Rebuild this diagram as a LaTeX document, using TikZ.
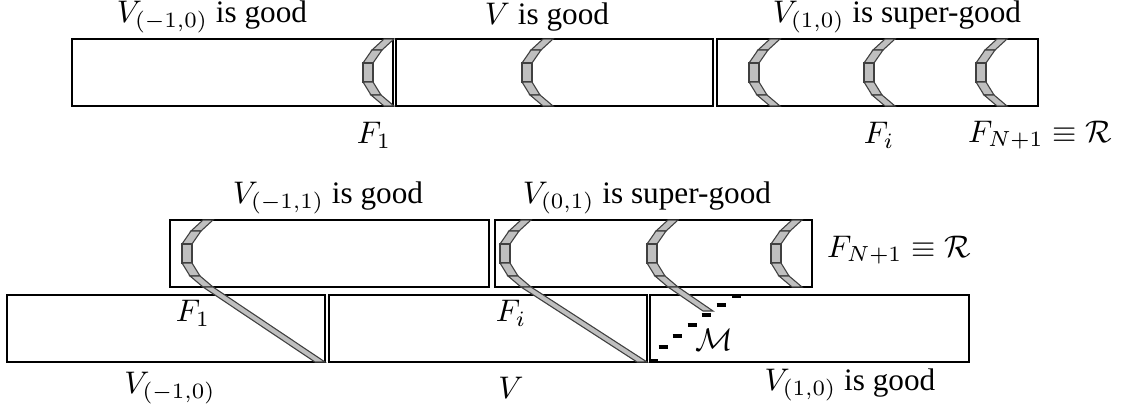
\documentclass[tikz,border=0pt]{standalone}
\usepackage{amsmath, amssymb}
\usepackage[no-math]{fontspec}
\setmainfont{Liberation Serif}

\tikzset{
  cell/.style={line width=0.7pt},
  band/.style={draw=black!75, line width=0.35pt, fill=black!25},
  mdash/.style={line width=1.4pt},
  crescent/.pic={
    \foreach \ax/\ay/\bx/\by in {21/0/9/11, 9/11/0/24, 0/24/0/43, 0/43/8/56, 8/56/21/67}
      \draw[band] (\ax,\ay) -- (\bx,\by) -- (\bx+10,\by) -- (\ax+10,\ay) -- cycle;
  }
}

\begin{document}
\begin{tikzpicture}[x=0.32pt, y=-0.32pt]
\useasboundingbox (0,0) rectangle (1127,412);
% first row
\draw[cell] (72,39) rectangle (393,106);
\draw[cell] (396,39) rectangle (713,106);
\draw[cell] (717,39) rectangle (1038,106);
\foreach \x in {363,522,749,864,976}
  \pic at (\x,39) {crescent};
\node (topa) at (212,17) {$V_{(-1,0)}$ is good};
\node (topb) at (547,17) {$V$ is good};
\node (topc) at (897,17) {$V_{(1,0)}$ is super-good};
\node (fone) at (374,135) {$F_1$};
\node (fi) at (879,135) {$F_i$};
\node (fend) at (1040,135) {$F_{N+1}\equiv\mathcal{R}$};
% second row
\draw[cell] (170,220) rectangle (489,287);
\draw[cell] (495,220) rectangle (812,287);
\draw[cell] (7,295) rectangle (325,362);
\draw[cell] (329,295) rectangle (647,362);
\draw[cell] (650,295) rectangle (969,362);
\foreach \x in {182,500,647,771}
  \pic at (\x,220) {crescent};
\draw[band] (203,287) -- (213,287) -- (325,362) -- (315,362) -- cycle;
\draw[band] (521,287) -- (531,287) -- (647,362) -- (637,362) -- cycle;
\draw[band] (668,287) -- (678,287) -- (713,311) -- (703,311) -- cycle;
\foreach \x/\y in {653/361, 663/347, 677/336, 692/325, 706/315, 721/305, 736/296}
  \draw[mdash] (\x-4.5,\y) -- (\x+4.5,\y);
\node (upa) at (328,198) {$V_{(-1,1)}$ is good};
\node (upb) at (647,198) {$V_{(0,1)}$ is super-good};
\node[anchor=west] (fendb) at (816,250) {$F_{N+1}\equiv\mathcal{R}$};
\node (fonel) at (193,313) {$F_1$};
\node (fil) at (511,313) {$F_i$};
\node (mset) at (714,340) {$\mathcal{M}$};
\node (lowa) at (170,388) {$V_{(-1,0)}$};
\node (lowb) at (511,388) {$V$};
\node (lowc) at (850,385) {$V_{(1,0)}$ is good};
\end{tikzpicture}
\end{document}
